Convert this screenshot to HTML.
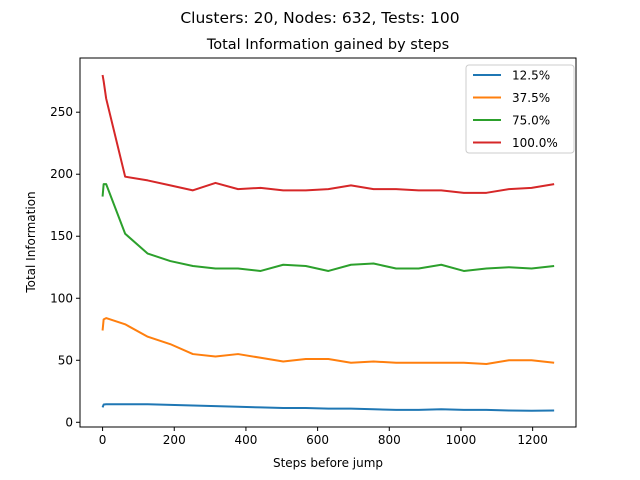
<!DOCTYPE html>
<html><head><meta charset="utf-8"><style>body{margin:0;background:#fff}svg{display:block;font-family:"DejaVu Sans","Liberation Sans",sans-serif}</style></head>
<body>
<svg id="c" width="640" height="480"></svg>
<script>
const steps=[0,3,10,63,126,189,252,315,378,441,504,567,630,693,756,819,882,945,1008,1071,1134,1197,1260];
const s125=[12,14.3,14.5,14.5,14.5,14,13.5,13,12.5,12,11.5,11.5,11,11,10.5,10,10,10.5,10,10,9.5,9.3,9.5];
const s375=[74,83,84,79,69,63,55,53,55,52,49,51,51,48,49,48,48,48,48,47,50,50,48];
const s750=[182,192,192,152,136,130,126,124,124,122,127,126,122,127,128,124,124,127,122,124,125,124,126];
const s1000=[280,275,261,198,195,191,187,193,188,189,187,187,188,191,188,188,187,187,185,185,188,189,192];
const seriesNames=["12.5%","37.5%","75.0%","100.0%"];
const xTicks=[0,200,400,600,800,1000,1200];
const yTicks=[0,50,100,150,200,250];
const colors=["#1f77b4","#ff7f0e","#2ca02c","#d62728"];
const L=80,R=576,T=58,B=427,x0=-63,x1=1321,y0=-3.8,y1=293.7;
const X=v=>L+(v-x0)/(x1-x0)*(R-L), Y=v=>B-(v-y0)/(y1-y0)*(B-T);
const svg=document.getElementById('c');const NS="http://www.w3.org/2000/svg";
function mk(t,a,p){const e=document.createElementNS(NS,t);for(const k in a)e.setAttribute(k,a[k]);(p||svg).appendChild(e);return e;}
let e;
e=mk('text',{x:320,y:23,'text-anchor':'middle','font-size':15.5,fill:'#000'});e.textContent="Clusters: 20, Nodes: 632, Tests: 100";


e=mk('text',{x:328,y:49,'text-anchor':'middle','font-size':14.5,fill:'#000'});e.textContent="Total Information gained by steps";


xTicks.forEach(v=>{mk('line',{x1:X(v),x2:X(v),y1:B,y2:B+4,stroke:'#000'});const t=mk('text',{x:X(v),y:B+17,'text-anchor':'middle','font-size':12});t.textContent=v;

});
yTicks.forEach(v=>{mk('line',{x1:L-4,x2:L,y1:Y(v),y2:Y(v),stroke:'#000'});const t=mk('text',{x:L-7,y:Y(v)+4,'text-anchor':'end','font-size':12});t.textContent=v;

});
e=mk('text',{x:328,y:467,'text-anchor':'middle','font-size':12});e.textContent="Steps before jump";


e=mk('text',{x:35,y:242,'text-anchor':'middle','font-size':12,transform:'rotate(-90 35 242)'});e.textContent="Total Information";


[s125,s375,s750,s1000].forEach((s,i)=>{const p=mk('polyline',{points:s.map((v,j)=>X(steps[j])+','+Y(v)).join(' '),fill:'none',stroke:colors[i],'stroke-width':2,'stroke-linejoin':'round'});

});
e=mk('rect',{x:L,y:T,width:R-L,height:B-T,fill:'none',stroke:'#000','stroke-width':1});


const lg=mk('g',{});


mk('rect',{x:466,y:65,width:108,height:88,rx:3,fill:'#fff',stroke:'#ccc'},lg);
seriesNames.forEach((n,i)=>{const y=75+i*22.5;mk('line',{x1:473,x2:501,y1:y,y2:y,stroke:colors[i],'stroke-width':2},lg);const t=mk('text',{x:512,y:y+4.5,'font-size':12},lg);t.textContent=n;

});
</script>
</body></html>
